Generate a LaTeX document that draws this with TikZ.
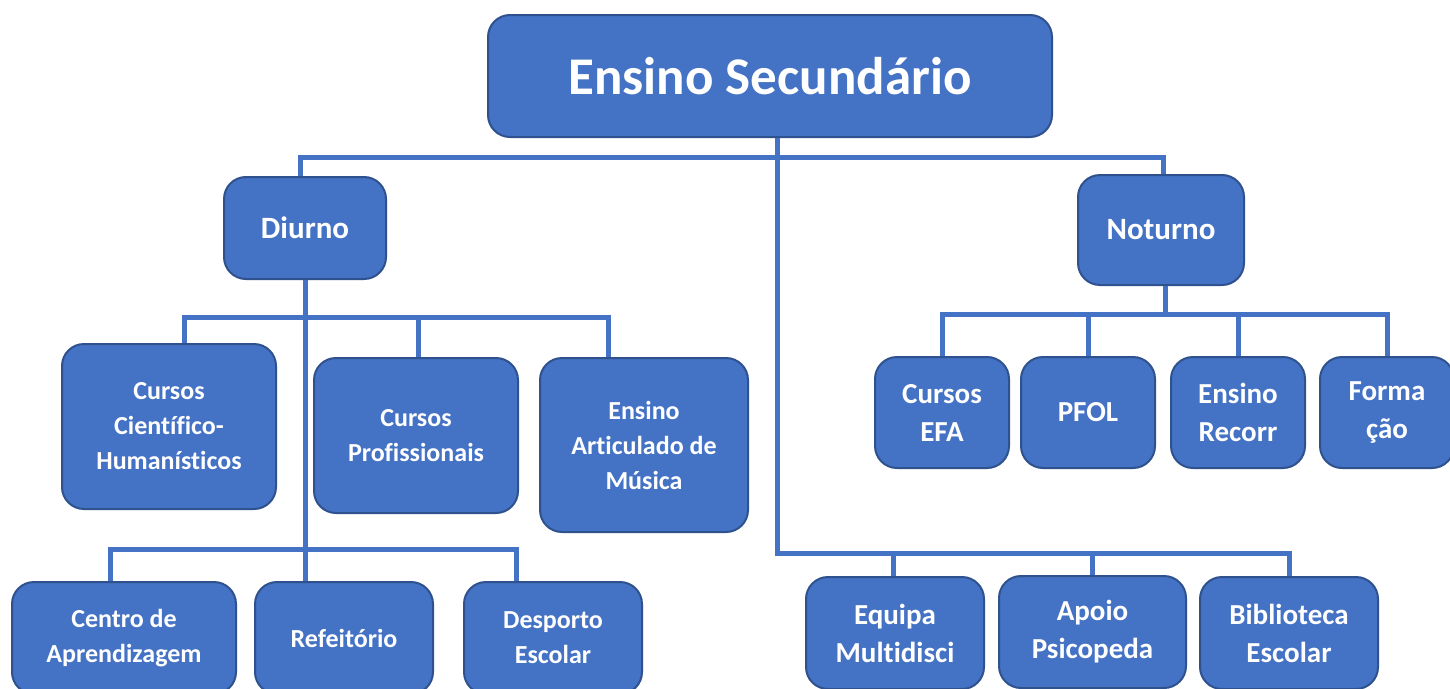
\documentclass[tikz,border=0pt]{standalone}
\usepackage{fontspec}
\setmainfont[Ligatures=NoCommon]{Carlito}
\usetikzlibrary{positioning}
\definecolor{boxblue}{HTML}{4472C4}
\definecolor{boxline}{HTML}{2F528F}
\begin{document}
\begin{tikzpicture}[x=1pt,y=-1pt,
    box/.style={draw=boxline,line width=2pt,fill=boxblue,text=white,rounded corners=22pt,align=center,inner sep=2pt},
    small/.style={box,font=\bfseries\fontsize{26}{35}\selectfont},
    rsmall/.style={box,font=\bfseries\fontsize{29}{38}\selectfont},
    mid/.style={box,font=\bfseries\fontsize{31}{38}\selectfont},
    conn/.style={draw=boxblue,line width=5pt}]
    \useasboundingbox[fill=white] (0,0) rectangle (1450,688);

    \node[box,font=\bfseries\fontsize{53}{64}\selectfont,minimum width=564pt,minimum height=122pt] (top) at (770,76) {Ensino Secundário};

    \node[mid,minimum width=162pt,minimum height=102pt] (diu) at (305,228) {Diurno};
    \node[mid,minimum width=166pt,minimum height=110pt] (not) at (1161,230) {Noturno};

    \node[small,minimum width=214pt,minimum height=165pt] (cch) at (169,426.5) {Cursos\\Científico-\\Humanísticos};
    \node[small,minimum width=204pt,minimum height=155pt] (cpr) at (416,435.5) {Cursos\\Profissionais};
    \node[small,minimum width=208pt,minimum height=174pt] (eam) at (644,445) {Ensino\\Articulado de\\Música};

    \node[rsmall,minimum width=134pt,minimum height=111pt] (efa) at (942,412.5) {Cursos\\EFA};
    \node[rsmall,minimum width=134pt,minimum height=111pt] (pfo) at (1088,412.5) {PFOL};
    \node[rsmall,minimum width=134pt,minimum height=111pt] (rec) at (1238,412.5) {Ensino\\Recorr};
    \node[rsmall,minimum width=134pt,minimum height=111pt] (frm) at (1387,412.5) {Forma\\ção};

    \node[small,minimum width=224pt,minimum height=112pt] (cen) at (124,638) {Centro de\\Aprendizagem};
    \node[small,minimum width=178pt,minimum height=112pt] (ref) at (344,638) {Refeitório};
    \node[small,minimum width=178pt,minimum height=112pt] (des) at (553,638) {Desporto\\Escolar};

    \node[rsmall,minimum width=178pt,minimum height=112pt] (eqp) at (895,633) {Equipa\\Multidisci};
    \node[rsmall,minimum width=187pt,minimum height=112pt] (apo) at (1092.5,632) {Apoio\\Psicopeda};
    \node[rsmall,minimum width=178pt,minimum height=112pt] (bib) at (1289,633) {Biblioteca\\Escolar};

    \draw[conn] ([xshift=7pt]top.south) -- ++(0,415) -| (bib.north);
    \draw[conn] ([xshift=-2pt]eqp.north) -- ++(0,-25);
    \draw[conn] (apo.north) -- ++(0,-24);

    \draw[conn] ([xshift=-5pt]diu.north) -- ++(0,-19) -| ([xshift=2pt]not.north);

    \draw[conn] (diu.south) -- (diu.south |- ref.north);
    \draw[conn] ([xshift=15pt]cch.north) -- ++(0,-26) -| ([xshift=-36pt]eam.north);
    \draw[conn] ([xshift=2pt]cpr.north) -- ++(0,-40);
    \draw[conn] ([xshift=-14pt]cen.north) -- ++(0,-32) -| ([xshift=-37pt]des.north);

    \draw[conn] ([xshift=4pt]not.south) -- ++(0,30);
    \draw[conn] (efa.north) -- ++(0,-42) -| (frm.north);
    \draw[conn] (pfo.north) -- ++(0,-42);
    \draw[conn] (rec.north) -- ++(0,-42);
\end{tikzpicture}
\end{document}
